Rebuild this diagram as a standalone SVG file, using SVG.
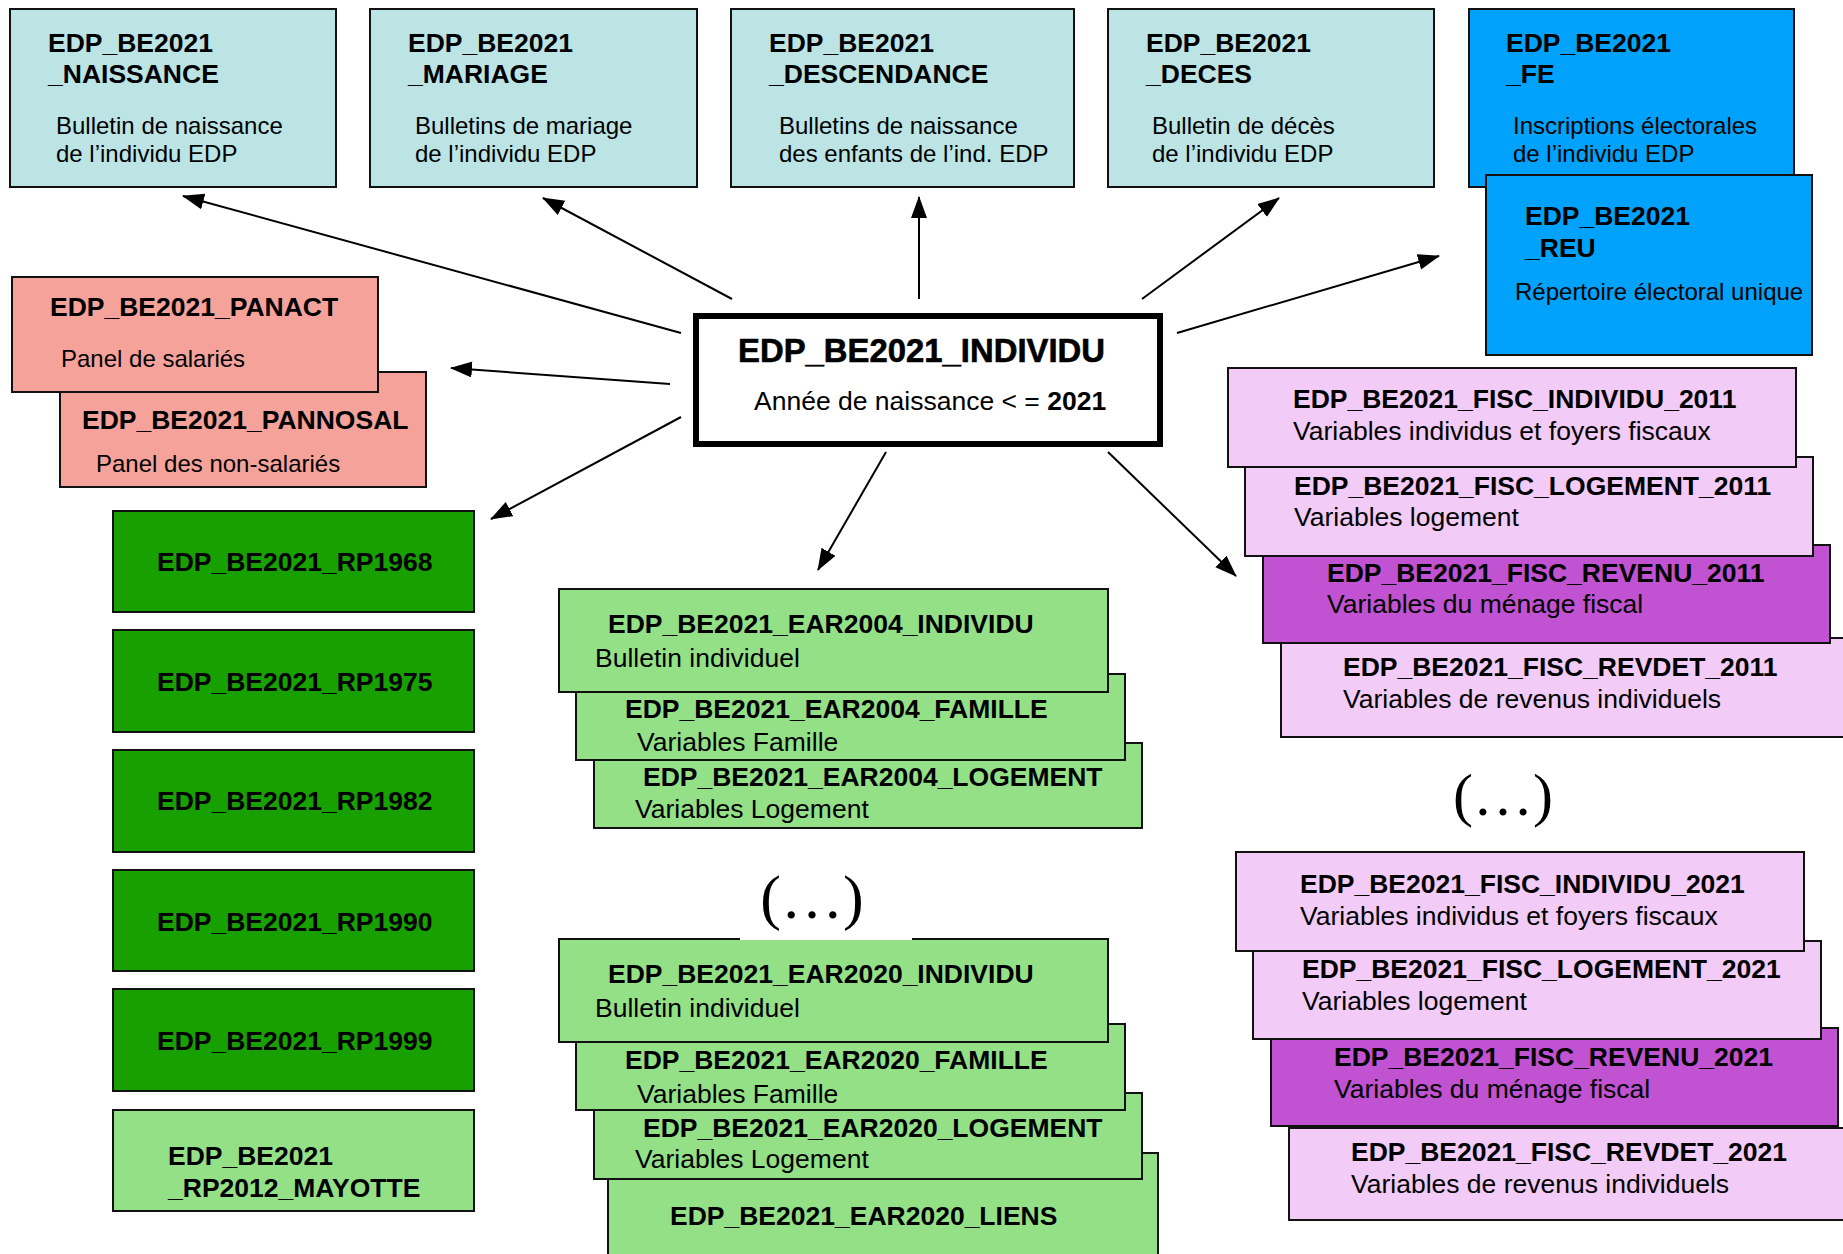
<svg xmlns="http://www.w3.org/2000/svg" width="1843" height="1254" viewBox="0 0 1843 1254">
<defs>
<style>
text{font-family:"Liberation Sans",Arial,sans-serif;fill:#000;}
.t{font-size:26.5px;font-weight:bold;}
.s{font-size:24px;}
.s2{font-size:26.5px;}
.box{stroke:#111;stroke-width:2;}
.cyan{fill:#bce4e4;}
.blue{fill:#00a2fb;}
.salmon{fill:#f5a29b;}
.dg{fill:#18a000;}
.lg{fill:#94e086;}
.pink{fill:#f2cbf6;}
.purple{fill:#c152d2;}
.conn line{stroke:#000;stroke-width:2;marker-end:url(#ah);}
.dots{font-family:"Liberation Serif","Times New Roman",serif;text-anchor:middle;}
</style>
<marker id="ah" markerUnits="userSpaceOnUse" markerWidth="24" markerHeight="18" refX="21" refY="8" orient="auto">
<path d="M0,0 L22,8 L0,16 z" fill="#000"/>
</marker>
</defs>
<rect width="1843" height="1254" fill="#fff"/>

<!-- top row -->
<g id="naissance">
<rect class="box cyan" x="10" y="9" width="326" height="178"/>
<text class="t" x="48" y="52">EDP_BE2021</text>
<text class="t" x="48" y="83">_NAISSANCE</text>
<text class="s" x="56" y="134">Bulletin de naissance</text>
<text class="s" x="56" y="162">de l’individu EDP</text>
</g>
<g id="mariage">
<rect class="box cyan" x="370" y="9" width="327" height="178"/>
<text class="t" x="408" y="52">EDP_BE2021</text>
<text class="t" x="408" y="83">_MARIAGE</text>
<text class="s" x="415" y="134">Bulletins de mariage</text>
<text class="s" x="415" y="162">de l’individu EDP</text>
</g>
<g id="descendance">
<rect class="box cyan" x="731" y="9" width="343" height="178"/>
<text class="t" x="769" y="52">EDP_BE2021</text>
<text class="t" x="769" y="83">_DESCENDANCE</text>
<text class="s" x="779" y="134">Bulletins de naissance</text>
<text class="s" x="779" y="162">des enfants de l’ind. EDP</text>
</g>
<g id="deces">
<rect class="box cyan" x="1108" y="9" width="326" height="178"/>
<text class="t" x="1146" y="52">EDP_BE2021</text>
<text class="t" x="1146" y="83">_DECES</text>
<text class="s" x="1152" y="134">Bulletin de décès</text>
<text class="s" x="1152" y="162">de l’individu EDP</text>
</g>
<g id="fe">
<rect class="box blue" x="1469" y="9" width="325" height="178"/>
<text class="t" x="1506" y="52">EDP_BE2021</text>
<text class="t" x="1506" y="83">_FE</text>
<text class="s" x="1513" y="134">Inscriptions électorales</text>
<text class="s" x="1513" y="162">de l’individu EDP</text>
</g>
<g id="reu">
<rect class="box blue" x="1486" y="175" width="326" height="180"/>
<text class="t" x="1525" y="225">EDP_BE2021</text>
<text class="t" x="1525" y="257">_REU</text>
<text class="s" x="1515" y="300">Répertoire électoral unique</text>
</g>

<!-- panels -->
<g id="pannosal">
<rect class="box salmon" x="60" y="372" width="366" height="115"/>
<text class="t" x="82" y="429">EDP_BE2021_PANNOSAL</text>
<text class="s" x="96" y="472">Panel des non-salariés</text>
</g>
<g id="panact">
<rect class="box salmon" x="12" y="277" width="366" height="115"/>
<text class="t" x="50" y="316">EDP_BE2021_PANACT</text>
<text class="s" x="61" y="367">Panel de salariés</text>
</g>

<!-- center -->
<g id="individu">
<rect x="696" y="316" width="464" height="128" fill="#fff" stroke="#000" stroke-width="6"/>
<text x="738" y="362" font-size="33" font-weight="bold" stroke="#000" stroke-width="0.6" textLength="367" lengthAdjust="spacingAndGlyphs">EDP_BE2021_INDIVIDU</text>
<text x="754" y="410" font-size="26.5">Année de naissance &lt; = <tspan font-weight="bold">2021</tspan></text>
</g>

<!-- RP -->
<g id="rp1968"><rect class="box dg" x="113" y="511" width="361" height="101"/><text class="t" x="157" y="571">EDP_BE2021_RP1968</text></g>
<g id="rp1975"><rect class="box dg" x="113" y="630" width="361" height="102"/><text class="t" x="157" y="691">EDP_BE2021_RP1975</text></g>
<g id="rp1982"><rect class="box dg" x="113" y="750" width="361" height="102"/><text class="t" x="157" y="810">EDP_BE2021_RP1982</text></g>
<g id="rp1990"><rect class="box dg" x="113" y="870" width="361" height="101"/><text class="t" x="157" y="931">EDP_BE2021_RP1990</text></g>
<g id="rp1999"><rect class="box dg" x="113" y="989" width="361" height="102"/><text class="t" x="157" y="1050">EDP_BE2021_RP1999</text></g>
<g id="rp2012_mayotte"><rect class="box lg" x="113" y="1110" width="361" height="101"/>
<text class="t" x="168" y="1165">EDP_BE2021</text>
<text class="t" x="168" y="1197">_RP2012_MAYOTTE</text></g>

<!-- EAR2004 -->
<g id="ear2004_logement"><rect class="box lg" x="594" y="743" width="548" height="85"/>
<text class="t" x="643" y="786">EDP_BE2021_EAR2004_LOGEMENT</text>
<text class="s2" x="635" y="818">Variables Logement</text></g>
<g id="ear2004_famille"><rect class="box lg" x="576" y="674" width="549" height="86"/>
<text class="t" x="625" y="718">EDP_BE2021_EAR2004_FAMILLE</text>
<text class="s2" x="637" y="751">Variables Famille</text></g>
<g id="ear2004_individu"><rect class="box lg" x="559" y="589" width="549" height="103"/>
<text class="t" x="608" y="633">EDP_BE2021_EAR2004_INDIVIDU</text>
<text class="s2" x="595" y="667">Bulletin individuel</text></g>

<!-- EAR2020 -->
<g id="ear2020_liens"><rect class="box lg" x="608" y="1153" width="550" height="120"/>
<text class="t" x="670" y="1225">EDP_BE2021_EAR2020_LIENS</text></g>
<g id="ear2020_logement"><rect class="box lg" x="594" y="1093" width="548" height="86"/>
<text class="t" x="643" y="1137">EDP_BE2021_EAR2020_LOGEMENT</text>
<text class="s2" x="635" y="1168">Variables Logement</text></g>
<g id="ear2020_famille"><rect class="box lg" x="576" y="1024" width="549" height="86"/>
<text class="t" x="625" y="1069">EDP_BE2021_EAR2020_FAMILLE</text>
<text class="s2" x="637" y="1103">Variables Famille</text></g>
<g id="ear2020_individu"><rect class="box lg" x="559" y="939" width="549" height="103"/>
<text class="t" x="608" y="983">EDP_BE2021_EAR2020_INDIVIDU</text>
<text class="s2" x="595" y="1017">Bulletin individuel</text></g>

<g id="ellipsis_ear">
<rect x="740" y="934" width="172" height="6" fill="#fff"/>
<text class="dots" x="812" y="918" font-size="62">(…)</text>
</g>

<!-- FISC 2011 -->
<g id="fisc_revdet_2011"><rect class="box pink" x="1281" y="638" width="600" height="99"/>
<text class="t" x="1343" y="676">EDP_BE2021_FISC_REVDET_2011</text>
<text class="s2" x="1343" y="708">Variables de revenus individuels</text></g>
<g id="fisc_revenu_2011"><rect class="box purple" x="1263" y="545" width="567" height="98"/>
<text class="t" x="1327" y="582">EDP_BE2021_FISC_REVENU_2011</text>
<text class="s2" x="1327" y="613">Variables du ménage fiscal</text></g>
<g id="fisc_logement_2011"><rect class="box pink" x="1245" y="457" width="568" height="99"/>
<text class="t" x="1294" y="495">EDP_BE2021_FISC_LOGEMENT_2011</text>
<text class="s2" x="1294" y="526">Variables logement</text></g>
<g id="fisc_individu_2011"><rect class="box pink" x="1228" y="368" width="568" height="99"/>
<text class="t" x="1293" y="408">EDP_BE2021_FISC_INDIVIDU_2011</text>
<text class="s2" x="1293" y="440">Variables individus et foyers fiscaux</text></g>

<g id="ellipsis_fisc">
<text class="dots" x="1503" y="815" font-size="60">(…)</text>
</g>

<!-- FISC 2021 -->
<g id="fisc_revdet_2021"><rect class="box pink" x="1289" y="1128" width="600" height="92"/>
<text class="t" x="1351" y="1161">EDP_BE2021_FISC_REVDET_2021</text>
<text class="s2" x="1351" y="1193">Variables de revenus individuels</text></g>
<g id="fisc_revenu_2021"><rect class="box purple" x="1271" y="1028" width="567" height="98"/>
<text class="t" x="1334" y="1066">EDP_BE2021_FISC_REVENU_2021</text>
<text class="s2" x="1334" y="1098">Variables du ménage fiscal</text></g>
<g id="fisc_logement_2021"><rect class="box pink" x="1253" y="941" width="568" height="98"/>
<text class="t" x="1302" y="978">EDP_BE2021_FISC_LOGEMENT_2021</text>
<text class="s2" x="1302" y="1010">Variables logement</text></g>
<g id="fisc_individu_2021"><rect class="box pink" x="1236" y="852" width="568" height="99"/>
<text class="t" x="1300" y="893">EDP_BE2021_FISC_INDIVIDU_2021</text>
<text class="s2" x="1300" y="925">Variables individus et foyers fiscaux</text></g>

<!-- connectors -->
<g id="connectors" class="conn">
<line x1="681" y1="333" x2="183" y2="196"/>
<line x1="732" y1="299" x2="543" y2="198"/>
<line x1="919" y1="299" x2="919" y2="197"/>
<line x1="1142" y1="299" x2="1279" y2="198"/>
<line x1="1177" y1="333" x2="1439" y2="256"/>
<line x1="670" y1="384" x2="451" y2="368"/>
<line x1="681" y1="417" x2="491" y2="519"/>
<line x1="886" y1="452" x2="818" y2="570"/>
<line x1="1108" y1="452" x2="1236" y2="576"/>
</g>
</svg>
